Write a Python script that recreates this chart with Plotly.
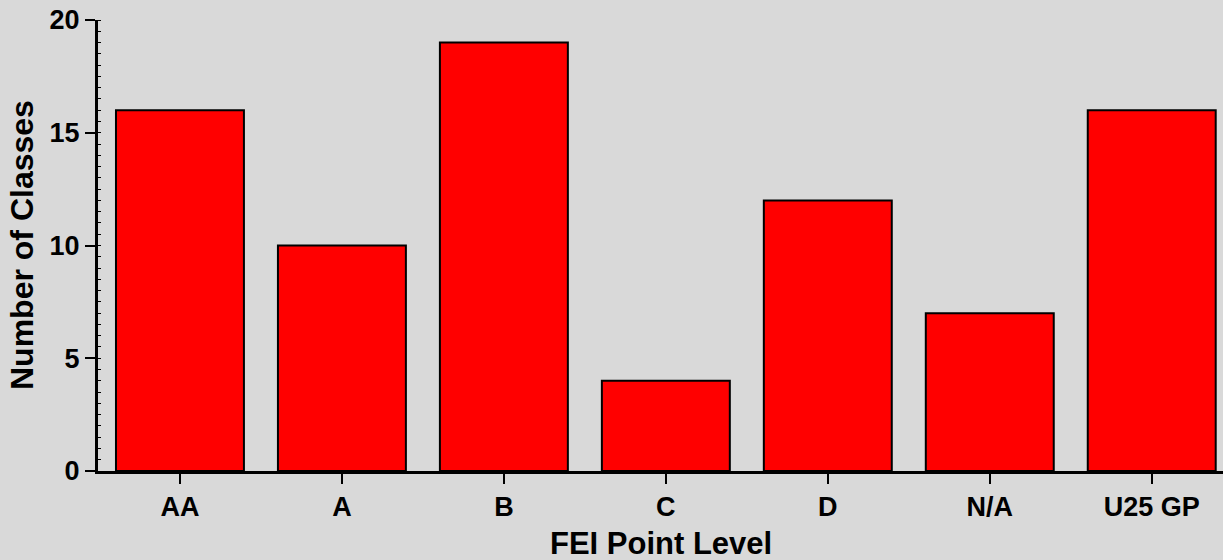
import plotly.graph_objects as go

categories = ["AA", "A", "B", "C", "D", "N/A", "U25 GP"]
counts = [16, 10, 19, 4, 12, 7, 16]
y_ticks = [0, 5, 10, 15, 20]
x_title = "FEI Point Level"
y_title = "Number of Classes"

FAM = "Liberation Sans, Arial, sans-serif"
BG = "#d9d9d9"

fig = go.Figure()
fig.add_trace(go.Bar(
    x=categories, y=counts, width=0.79,
    marker=dict(color="#ff0000", line=dict(color="black", width=2)),
))

tickfont = dict(family=FAM, size=27, color="black", weight="bold")
fig.update_layout(
    width=1223, height=560,
    margin=dict(l=98, r=0, t=20, b=89),
    paper_bgcolor=BG, plot_bgcolor="rgba(0,0,0,0)",
    showlegend=False,
    font=dict(family=FAM, color="black"),
    xaxis=dict(
        range=[-0.506, 6.44], showgrid=False, showline=True, linecolor="black", linewidth=3,
        ticks="outside", ticklen=10, tickwidth=2, tickcolor="black",
        tickfont=tickfont, automargin=False,
    ),
    yaxis=dict(
        range=[0, 20], tickvals=y_ticks, showgrid=False, zeroline=False, showline=True,
        linecolor="black", linewidth=3,
        ticks="outside", ticklen=10, tickwidth=2, tickcolor="black",
        tickfont=tickfont, automargin=False,
        minor=dict(ticks="inside", ticklen=3, dtick=0.5, tickcolor="black", tickwidth=1),
    ),
    annotations=[
        dict(text="<b>" + x_title + "</b>", xref="paper", yref="paper", x=0.5, y=-0.16,
             xanchor="center", yanchor="middle", showarrow=False,
             font=dict(family=FAM, size=31, color="black")),
        dict(text="<b>" + y_title + "</b>", xref="paper", yref="paper", x=-0.068, y=0.5,
             xanchor="center", yanchor="middle", showarrow=False, textangle=-90,
             font=dict(family=FAM, size=32, color="black")),
    ],
)
fig.write_html(
    "out.html",
    config={"displayModeBar": False},
    post_script="document.body.style.margin='0';document.body.style.background='" + BG + "';",
)
